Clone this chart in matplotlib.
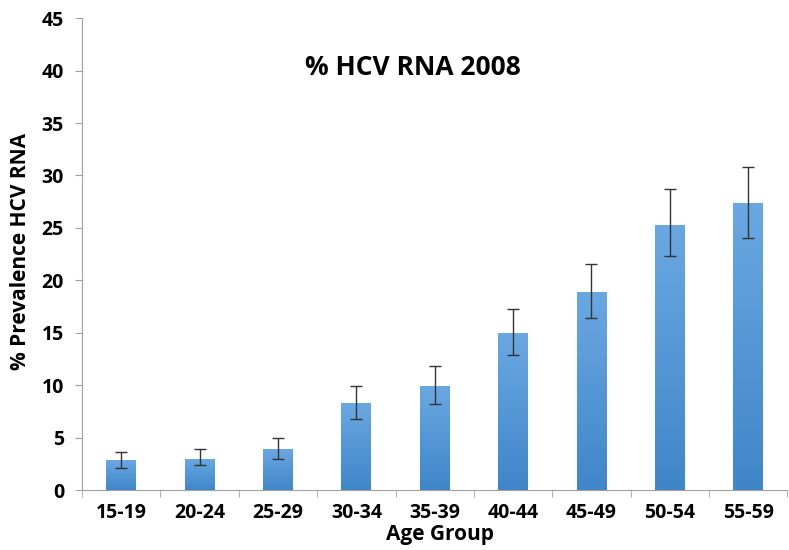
import numpy as np
import matplotlib.pyplot as plt
from matplotlib.colors import LinearSegmentedColormap

age_groups = ['15-19', '20-24', '25-29', '30-34', '35-39', '40-44', '45-49', '50-54', '55-59']
prevalence = [2.85, 3.0, 3.9, 8.3, 9.9, 15.0, 18.9, 25.3, 27.4]
err_low = [2.15, 2.4, 3.0, 6.8, 8.2, 12.9, 16.4, 22.3, 24.0]
err_high = [3.65, 3.9, 5.0, 9.95, 11.8, 17.25, 21.6, 28.7, 30.85]

plt.rcParams['font.family'] = ['Open Sans', 'DejaVu Sans']

fig = plt.figure(figsize=(7.89, 5.5), dpi=100)
ax = fig.add_axes([0.104, 0.109, 0.894, 0.858])

x = np.arange(len(age_groups))
bars = ax.bar(x, prevalence, width=0.38, color='none', zorder=2)

# gradient fill, lighter at top
cmap = LinearSegmentedColormap.from_list('blues', ['#3f86c9', '#6aa8e2'])
grad = np.linspace(0, 1, 256).reshape(-1, 1)
for b in bars:
    x0, y0 = b.get_x(), b.get_y()
    w, h = b.get_width(), b.get_height()
    im = ax.imshow(grad, cmap=cmap, origin='lower', aspect='auto',
                   extent=[x0, x0 + w, y0, y0 + h], zorder=2)
    im.set_clip_path(b)

yerr = [np.array(prevalence) - np.array(err_low), np.array(err_high) - np.array(prevalence)]
ax.errorbar(x, prevalence, yerr=yerr, fmt='none', ecolor='#333333',
            elinewidth=1, capsize=4, capthick=1, zorder=3)

ax.set_xlim(-0.5, len(age_groups) - 0.5)
ax.set_ylim(0, 45)
ax.set_yticks(range(0, 46, 5))
ax.set_xticks(x)
ax.set_xticklabels(age_groups, fontweight='bold', fontsize=14)
ax.set_xticks(np.arange(-0.5, len(age_groups), 1), minor=True)
ax.tick_params(axis='x', which='major', length=0, pad=9)
ax.tick_params(axis='x', which='minor', length=5, color='#a0a0a0')
ax.tick_params(axis='y', length=5, color='#a0a0a0', labelsize=14, pad=8)
for lbl in ax.get_yticklabels():
    lbl.set_fontweight('bold')

for s in ['top', 'right']:
    ax.spines[s].set_visible(False)
for s in ['left', 'bottom']:
    ax.spines[s].set_color('#a0a0a0')

ax.set_xlabel('Age Group', fontweight='bold', fontsize=15)
ax.xaxis.set_label_coords(0.507, -0.072)
ax.set_ylabel('% Prevalence HCV RNA', fontweight='bold', fontsize=15)
ax.yaxis.set_label_coords(-0.072, 0.505)
ax.text(0.469, 0.88, '% HCV RNA 2008', transform=ax.transAxes, ha='center',
        fontsize=19, fontweight='bold')

fig.savefig('out.png', dpi=100)
